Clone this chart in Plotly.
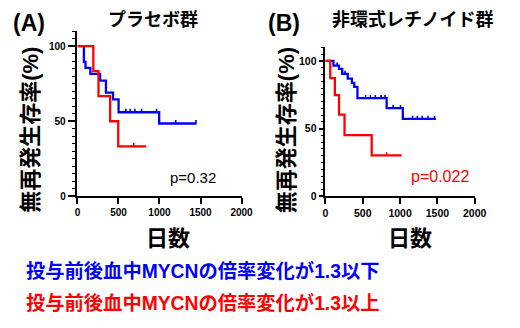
import plotly.graph_objects as go

# ---------------- data ----------------
x_ticks = [0, 500, 1000, 1500, 2000]
y_ticks = [0, 50, 100]

# Panel A (placebo)
a_blue_t = [0, 78, 98, 157, 276, 347, 433, 501, 996, 1450]
a_blue_s = [100, 89.5, 85.5, 81.5, 77, 69, 64.5, 56, 48.5, 48.5]
a_blue_cens = [590, 643, 700, 781, 964, 1198, 1445]
a_red_t = [0, 193, 256, 398, 497, 838]
a_red_s = [100, 83.3, 66.7, 50, 33.3, 33.3]
a_red_cens = [686]

# Panel B (acyclic retinoid)
b_blue_t = [0, 108, 182, 225, 299, 355, 386, 429, 820, 1037, 1480]
b_blue_s = [100, 96.6, 94.2, 90.4, 87, 83.8, 80.9, 72.5, 65.2, 57.2, 57.2]
b_blue_cens = [156, 262, 538, 603, 668, 746, 798, 907, 1006, 1167, 1232, 1297, 1375, 1462]
b_red_t = [0, 65, 126, 182, 256, 620, 1020]
b_red_s = [100, 87.3, 74.8, 60.3, 45.2, 30.3, 30.3]
b_red_cens = [820]

p_a = "p=0.32"
p_b = "p=0.022"
title_a = "プラセボ群"
title_b = "非環式レチノイド群"
y_title = "無再発生存率(%)"
x_title = "日数"
legend_low = "投与前後血中MYCNの倍率変化が1.3以下"
legend_high = "投与前後血中MYCNの倍率変化が1.3以上"

BLUE = "#0000FF"
RED = "#FF0000"
W, H = 520, 328
FONT = "Liberation Sans, Arial, Noto Sans CJK JP"


def px(x):
    return x / W


def py(y):
    return 1 - y / H


def surv_at(ts, ss, t):
    v = ss[0]
    for ti, si in zip(ts, ss):
        if ti <= t:
            v = si
    return v


def cens_segments(ts, ss, cens, h=2.3):
    xs, ys = [], []
    for c in cens:
        s = surv_at(ts, ss, c)
        xs += [c, c, None]
        ys += [s, s + h, None]
    return xs, ys


fig = go.Figure()

panels = [
    ("x", "y", a_blue_t, a_blue_s, a_blue_cens, BLUE),
    ("x", "y", a_red_t, a_red_s, a_red_cens, RED),
    ("x2", "y2", b_blue_t, b_blue_s, b_blue_cens, BLUE),
    ("x2", "y2", b_red_t, b_red_s, b_red_cens, RED),
]
for xa, ya, ts, ss, cens, col in panels:
    fig.add_trace(go.Scatter(x=ts, y=ss, mode="lines", line=dict(color=col, width=2.3, shape="hv"),
                             xaxis=xa, yaxis=ya, showlegend=False, cliponaxis=False))
    cx, cy = cens_segments(ts, ss, cens)
    fig.add_trace(go.Scatter(x=cx, y=cy, mode="lines", line=dict(color=col, width=1.6),
                             xaxis=xa, yaxis=ya, showlegend=False, cliponaxis=False))

axis_common = dict(showline=True, linecolor="black", linewidth=1.6, showgrid=False, zeroline=False,
                   ticks="outside", tickwidth=1.6, tickcolor="black")

fig.update_layout(
    width=W, height=H, margin=dict(l=0, r=0, t=0, b=0),
    paper_bgcolor="white", plot_bgcolor="white",
    font=dict(family=FONT, color="black"),
    xaxis=dict(domain=[px(76.7), px(245.6)], range=[0, 2000], tickvals=x_ticks, ticklen=6,
               tickfont=dict(size=10, weight="bold"), anchor="y", **axis_common),
    yaxis=dict(domain=[py(200), py(31.7)], range=[0, 110], tickvals=y_ticks, ticklen=8,
               tickfont=dict(size=10, weight="bold"), anchor="x",
               minor=dict(dtick=5, ticklen=4, ticks="outside", tickwidth=1.2, tickcolor="black"),
               **axis_common),
    xaxis2=dict(domain=[px(332), px(485.7)], range=[0, 2000], tickvals=x_ticks, ticklen=6,
                tickfont=dict(size=10.5, weight="bold"), anchor="y2", **axis_common),
    yaxis2=dict(domain=[py(200), py(48.3)], range=[0, 110], tickvals=y_ticks, ticklen=5,
                tickfont=dict(size=10.5, weight="bold"), anchor="x2",
                minor=dict(dtick=5, ticklen=3, ticks="outside", tickwidth=1.2, tickcolor="black"),
                **axis_common),
)

ann = []


def add(text, x, y, size, color="black", bold=True, angle=0, xanchor="center"):
    ann.append(dict(text=(f"<b>{text}</b>" if bold else text), x=px(x), y=py(y),
                    xref="paper", yref="paper", showarrow=False, textangle=angle,
                    xanchor=xanchor, yanchor="middle",
                    font=dict(size=size, color=color, family=FONT)))


add("(A)", 26.5, 23, 23)
add(title_a, 154.5, 20, 18)
add("(B)", 289, 23, 23)
add(title_b, 421.5, 20, 18)
add(y_title, 28, 132, 22, angle=-90)
add(y_title, 292, 133, 22, angle=-90)
add(x_title, 169.5, 243, 22)
add(x_title, 419, 243, 22)
add(p_a, 196, 181, 15, bold=False)
add(p_b, 450, 180, 16, color=RED, bold=False)
add(legend_low, 22, 276, 19.3, color=BLUE, xanchor="left")
add(legend_high, 22, 309, 19.3, color=RED, xanchor="left")
fig.update_layout(annotations=ann)

fig.write_html("out.html")
